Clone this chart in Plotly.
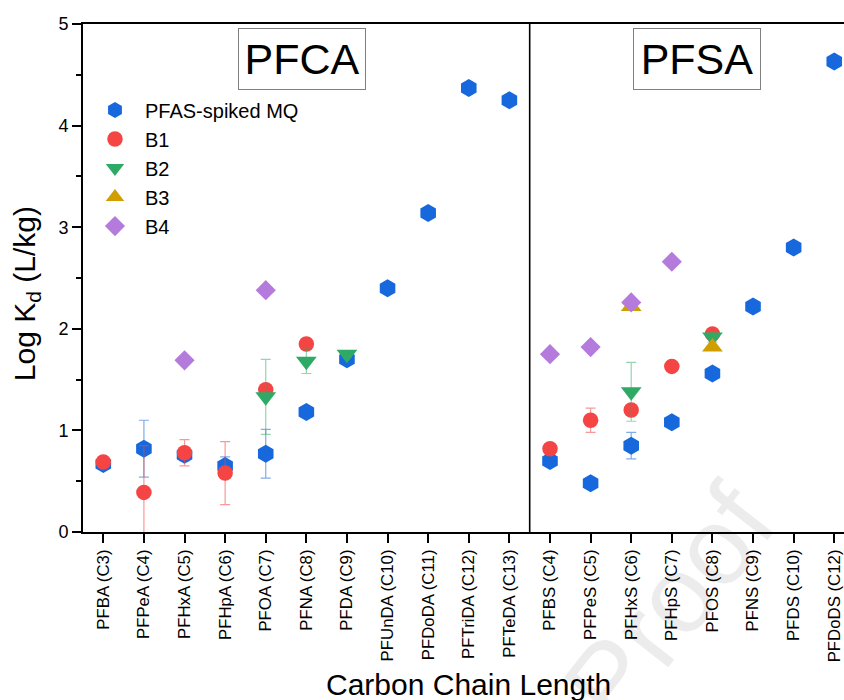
import plotly.graph_objects as go

# Compounds, grouped as PFCAs then PFSAs
categories = [
    "PFBA (C3)", "PFPeA (C4)", "PFHxA (C5)", "PFHpA (C6)", "PFOA (C7)",
    "PFNA (C8)", "PFDA (C9)", "PFUnDA (C10)", "PFDoDA (C11)", "PFTriDA (C12)",
    "PFTeDA (C13)",
    "PFBS (C4)", "PFPeS (C5)", "PFHxS (C6)", "PFHpS (C7)", "PFOS (C8)",
    "PFNS (C9)", "PFDS (C10)", "PFDoDS (C12)",
]
n_pfca = 11

# Log Kd (L/kg) and standard deviations per matrix
mq = [0.67, 0.82, 0.76, 0.65, 0.77, 1.18, 1.70, 2.40, 3.14, 4.37, 4.25,
      0.70, 0.48, 0.85, 1.08, 1.56, 2.22, 2.80, 4.63]
mq_err = [0.05, 0.28, 0.06, 0.09, 0.24, 0, 0, 0, 0, 0, 0,
          0.04, 0, 0.13, 0, 0, 0, 0, 0]

b1 = [0.69, 0.39, 0.78, 0.58, 1.40, 1.85, None, None, None, None, None,
      0.82, 1.10, 1.20, 1.63, 1.95, None, None, None]
b1_err = [0.02, 0.46, 0.13, 0.31, 0.05, 0, None, None, None, None, None,
          0.03, 0.12, 0.04, 0, 0.03, None, None, None]

b2 = [None, None, None, None, 1.33, 1.68, 1.75, None, None, None, None,
      None, None, 1.38, None, 1.92, None, None, None]
b2_err = [None, None, None, None, 0.37, 0.12, 0.03, None, None, None, None,
          None, None, 0.29, None, 0.05, None, None, None]

b3 = [None, None, None, None, None, None, None, None, None, None, None,
      None, None, 2.22, None, 1.82, None, None, None]

b4 = [None, None, 1.69, None, 2.38, None, None, None, None, None, None,
      1.75, 1.82, 2.26, 2.66, None, None, None, None]

idx = list(range(len(categories)))
font_family = "Liberation Sans, Arial, sans-serif"

fig = go.Figure()

series = [
    ("PFAS-spiked MQ", mq, mq_err, "hexagon", 18, "#1668DC", "rgba(22,104,220,0.55)"),
    ("B1", b1, b1_err, "circle", 15.5, "#F44444", "rgba(244,68,68,0.55)"),
    ("B2", b2, b2_err, "triangle-down", 18, "#2EAA66", "rgba(46,170,102,0.5)"),
    ("B3", b3, None, "triangle-up", 18, "#D19E00", None),
    ("B4", b4, None, "diamond", 15.5, "#B57BDC", None),
]

for name, vals, errs, symbol, size, color, ecolor in series:
    err_cfg = None
    if errs is not None:
        err_cfg = dict(type="data", array=errs, visible=True,
                       color=ecolor, thickness=1.2, width=5)
    fig.add_trace(go.Scatter(
        x=idx, y=vals, name=name, mode="markers",
        marker=dict(symbol=symbol, size=size, color=color, line=dict(width=0)),
        error_y=err_cfg,
    ))

# Faint proof mark (translucent so the labels beneath stay dark)
fig.add_annotation(text="Proof", xref="paper", yref="paper",
                   x=0.77, y=-0.14, textangle=-52, showarrow=False,
                   xanchor="center", yanchor="middle",
                   font=dict(family=font_family, size=110,
                             color="rgba(0,0,0,0.075)"))

# Divider between the PFCA and PFSA groups
fig.add_shape(type="line", xref="x", yref="y",
              x0=n_pfca - 0.5, x1=n_pfca - 0.5, y0=0, y1=5,
              line=dict(color="black", width=1.6))

# Group labels
for label, px in (("PFCA", 0.2878), ("PFSA", 0.8072)):
    fig.add_annotation(text=label, xref="paper", yref="paper", x=px, y=0.932,
                       xanchor="center", yanchor="middle", showarrow=False,
                       font=dict(family=font_family, size=43, color="black"),
                       width=122, height=56, borderpad=2,
                       bordercolor="#7f7f7f", borderwidth=1)

# Axis titles
fig.add_annotation(text="Log K<sub>d</sub> (L/kg)", xref="paper", yref="paper",
                   x=-0.075, y=0.47, textangle=-90, showarrow=False,
                   xanchor="center", yanchor="middle",
                   font=dict(family=font_family, size=30, color="black"))
fig.add_annotation(text="Carbon Chain Length", xref="paper", yref="paper",
                   x=0.507, y=-0.300, showarrow=False,
                   xanchor="center", yanchor="middle",
                   font=dict(family=font_family, size=30, color="black"))

fig.update_layout(
    width=844, height=700,
    margin=dict(l=83, r=0, t=24, b=168),
    paper_bgcolor="white", plot_bgcolor="white",
    font=dict(family=font_family, color="black"),
    showlegend=True,
    legend=dict(x=0.0026, y=0.869, xanchor="left", yanchor="top",
                bgcolor="rgba(0,0,0,0)", borderwidth=0,
                font=dict(family=font_family, size=20, color="black"),
                itemwidth=50, tracegroupgap=0),
)

fig.update_xaxes(
    range=[-0.5, 18.24], tickmode="array", tickvals=idx, ticktext=categories,
    tickangle=-90, ticks="outside", ticklen=9, tickwidth=1.5, tickcolor="black",
    showline=True, linecolor="black", linewidth=1.6, mirror=True,
    showgrid=False, zeroline=False,
    tickfont=dict(family=font_family, size=16.8, color="black"),
)
fig.update_yaxes(
    range=[0, 5], dtick=1, ticks="outside", ticklen=9, tickwidth=1.5,
    tickcolor="black", showline=True, linecolor="black", linewidth=1.6,
    showgrid=False, zeroline=False,
    minor=dict(dtick=0.5, ticks="outside", ticklen=5, tickwidth=1.5,
               tickcolor="black", showgrid=False),
    tickfont=dict(family=font_family, size=18, color="black"),
)

fig.write_html("out.html")
